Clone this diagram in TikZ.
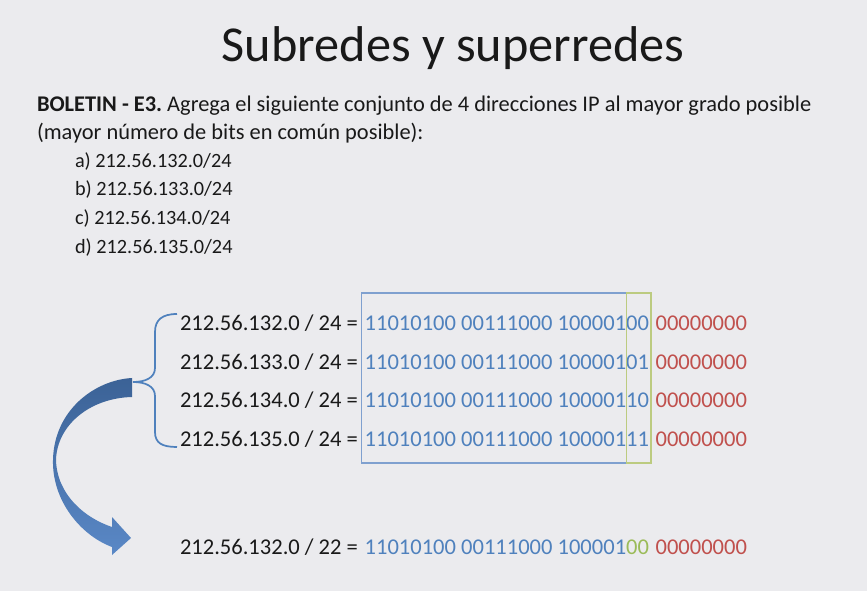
\documentclass[tikz,border=0pt]{standalone}
\usepackage{fontspec}
\setmainfont{Carlito}
\usetikzlibrary{calc}
\frenchspacing
\definecolor{bg}{HTML}{EBEBEE}
\definecolor{ipblue}{HTML}{4F81BD}
\definecolor{ipred}{HTML}{C0504D}
\definecolor{ipgreen}{HTML}{9BBB59}
\definecolor{boxblue}{HTML}{7FA0CF}
\definecolor{boxgreen}{HTML}{BCCB80}
\definecolor{arrowtop}{HTML}{3B6296}
\definecolor{arrowbot}{HTML}{5A88C6}
\begin{document}
\frenchspacing
\begin{tikzpicture}[x=0.75pt,y=-0.75pt,
  txt/.style={inner sep=0pt,outer sep=0pt,anchor=base west},
  titletxt/.style={inner sep=0pt,anchor=base,font=\fontsize{37.7}{44}\selectfont,text=black!90},
  bodytxt/.style={txt,font=\fontsize{16.8}{20}\selectfont,text=black!90},
  listtxt/.style={txt,font=\fontsize{15.2}{18}\selectfont,text=black!90},
  rowtxt/.style={txt,font=\fontsize{16.9}{20}\selectfont,text=black!90},
  bitsb/.style={rowtxt,text=ipblue},
  bitsg/.style={rowtxt,text=ipgreen},
  bitsr/.style={rowtxt,text=ipred},
  boxb/.style={draw=boxblue,line width=0.9pt},
  boxg/.style={draw=boxgreen,line width=0.9pt},
  bracestyle/.style={draw=ipblue,line width=1.3pt}]
\fill[bg] (0,0) rectangle (867,591);
\useasboundingbox (0,0) rectangle (867,591);

\node[titletxt] (title) at (453,62) {Subredes y superredes};

\node[bodytxt] (q1) at (37,112) {\textbf{BOLETIN - E3.} Agrega el siguiente conjunto de 4 direcciones IP al mayor grado posible};
\node[bodytxt] (q2) at (37,140) {(mayor número de bits en común posible):};
\node[listtxt] (la) at (75,168) {a) 212.56.132.0/24};
\node[listtxt] (lb) at (75,196) {b) 212.56.133.0/24};
\node[listtxt] (lc) at (75,225) {c) 212.56.134.0/24};
\node[listtxt] (ld) at (75,254) {d) 212.56.135.0/24};

% rows
\node[rowtxt] (l1) at (180,331) {212.56.132.0 / 24 =\kern0.3em};
\node[bitsb] (b1) at (l1.base east) {11010100 00111000 100001};
\node[bitsb] (g1) at (b1.base east) {00};
\node[bitsr] (r1) at ([xshift=5]g1.base east) {00000000};

\node[rowtxt] (l2) at (180,369) {212.56.133.0 / 24 =\kern0.3em};
\node[bitsb] (b2) at (l2.base east) {11010100 00111000 100001};
\node[bitsb] (g2) at (b2.base east) {01};
\node[bitsr] (r2) at ([xshift=5]g2.base east) {00000000};

\node[rowtxt] (l3) at (180,407) {212.56.134.0 / 24 =\kern0.3em};
\node[bitsb] (b3) at (l3.base east) {11010100 00111000 100001};
\node[bitsb] (g3) at (b3.base east) {10};
\node[bitsr] (r3) at ([xshift=5]g3.base east) {00000000};

\node[rowtxt] (l4) at (180,446) {212.56.135.0 / 24 =\kern0.3em};
\node[bitsb] (b4) at (l4.base east) {11010100 00111000 100001};
\node[bitsb] (g4) at (b4.base east) {11};
\node[bitsr] (r4) at ([xshift=5]g4.base east) {00000000};

\node[rowtxt] (l5) at (180,554) {212.56.132.0 / 22 =\kern0.3em};
\node[bitsb] (b5) at (l5.base east) {11010100 00111000 100001};
\node[bitsg] (g5) at (b5.base east) {00};
\node[bitsr] (r5) at ([xshift=5]g5.base east) {00000000};

% boxes
\draw[boxb] ($(b1.base west)+(-3,-38)$) rectangle ($(g4.base west)+(0,17)$);
\draw[boxg] ($(g1.base west)+(0,-38)$) rectangle ($(g4.base east)+(2,17)$);

% brace
\draw[bracestyle] (177,314) .. controls (162,314) and (155,320) .. (155,332)
  -- (155,368) .. controls (155,378) and (145,382) .. (133,382)
  .. controls (145,382) and (155,386) .. (155,396)
  -- (155,432) .. controls (155,443) and (162,447) .. (177,447);

% curved arrow
\shade[top color=arrowtop,bottom color=arrowbot]
  (132,378) .. controls (95,380) and (54,410) .. (53,460)
  .. controls (52,500) and (80,535) .. (112,547)
  -- (112,555) -- (131,538) -- (112,517) -- (112,527)
  .. controls (85,518) and (57,495) .. (56,460)
  .. controls (57,425) and (90,398) .. (132,397) -- cycle;
\end{tikzpicture}
\end{document}
